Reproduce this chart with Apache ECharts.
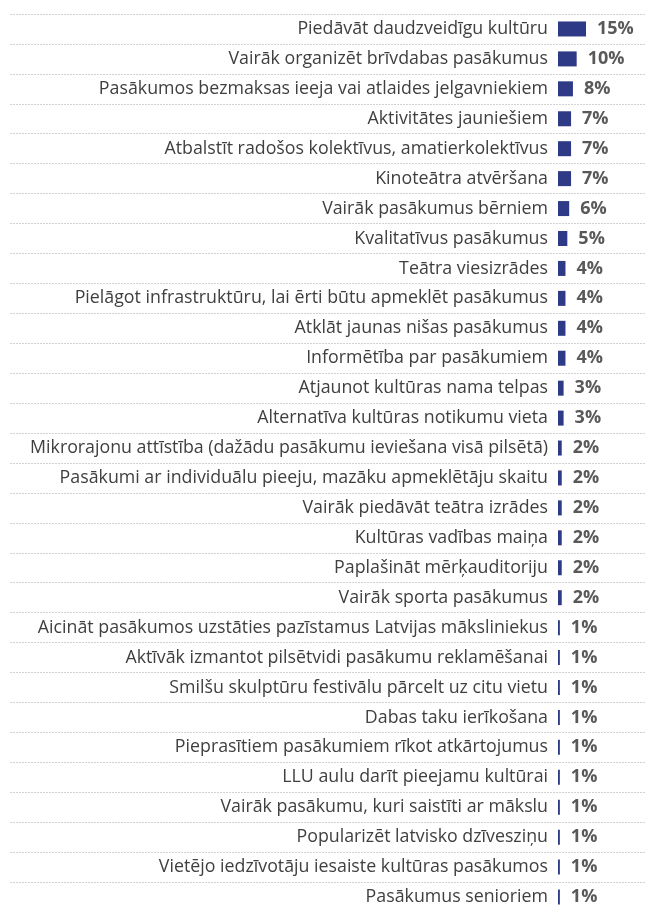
<!DOCTYPE html>
<html style="height: 100%">

<head>
    <meta charset="utf-8">
</head>

<body style="height: 100%; margin: 0; background: #fff">
    <div id="container" style="height: 100%"></div>
    <script type="text/javascript" src="https://cdn.jsdelivr.net/npm/echarts@6/dist/echarts.min.js"></script>
    <script type="text/javascript">

        // kategorijas (no augšas uz leju)
        var categories = [
            'Piedāvāt daudzveidīgu kultūru',
            'Vairāk organizēt brīvdabas pasākumus',
            'Pasākumos bezmaksas ieeja vai atlaides jelgavniekiem',
            'Aktivitātes jauniešiem',
            'Atbalstīt radošos kolektīvus, amatierkolektīvus',
            'Kinoteātra atvēršana',
            'Vairāk pasākumus bērniem',
            'Kvalitatīvus pasākumus',
            'Teātra viesizrādes',
            'Pielāgot infrastruktūru, lai ērti būtu apmeklēt pasākumus',
            'Atklāt jaunas nišas pasākumus',
            'Informētība par pasākumiem',
            'Atjaunot kultūras nama telpas',
            'Alternatīva kultūras notikumu vieta',
            'Mikrorajonu attīstība (dažādu pasākumu ieviešana visā pilsētā)',
            'Pasākumi ar individuālu pieeju, mazāku apmeklētāju skaitu',
            'Vairāk piedāvāt teātra izrādes',
            'Kultūras vadības maiņa',
            'Paplašināt mērķauditoriju',
            'Vairāk sporta pasākumus',
            'Aicināt pasākumos uzstāties pazīstamus Latvijas māksliniekus',
            'Aktīvāk izmantot pilsētvidi pasākumu reklamēšanai',
            'Smilšu skulptūru festivālu pārcelt uz citu vietu',
            'Dabas taku ierīkošana',
            'Pieprasītiem pasākumiem rīkot atkārtojumus',
            'LLU aulu darīt pieejamu kultūrai',
            'Vairāk pasākumu, kuri saistīti ar mākslu',
            'Popularizēt latvisko dzīvesziņu',
            'Vietējo iedzīvotāju iesaiste kultūras pasākumos',
            'Pasākumus senioriem'
        ];

        // procenti
        var percents = [15, 10, 8, 7, 7, 7, 6, 5, 4, 4, 4, 4, 3, 3, 2, 2, 2, 2, 2, 2, 1, 1, 1, 1, 1, 1, 1, 1, 1, 1];

        var dom = document.getElementById("container");
        var myChart = echarts.init(dom);

        var option = {
            animation: false,
            textStyle: { fontFamily: 'Open Sans' },
            grid: [
                // bāru laukums
                { left: 558, right: 60, top: 14, bottom: -3 },
                // punktotās līnijas pa visu platumu
                { left: 10, right: 0, top: 14, bottom: -3 }
            ],
            xAxis: [
                { type: 'value', gridIndex: 0, min: 0, max: 15, show: false },
                { type: 'value', gridIndex: 1, min: 0, max: 1, show: false }
            ],
            yAxis: [
                {
                    type: 'category',
                    gridIndex: 0,
                    inverse: true,
                    data: categories,
                    axisLine: { show: false },
                    axisTick: { show: false },
                    splitLine: { show: false },
                    axisLabel: {
                        interval: 0,
                        margin: 10,
                        color: '#3f3f3f',
                        fontSize: 17.8,
                        fontFamily: 'Open Sans'
                    }
                },
                {
                    type: 'category',
                    gridIndex: 1,
                    inverse: true,
                    data: categories,
                    axisLine: { show: false },
                    axisTick: { show: false },
                    axisLabel: { show: false },
                    splitLine: {
                        show: true,
                        interval: 0,
                        lineStyle: { color: '#d2d2d2', width: 1, type: [2, 1] }
                    }
                }
            ],
            series: [
                {
                    type: 'bar',
                    xAxisIndex: 0,
                    yAxisIndex: 0,
                    data: percents,
                    barWidth: 15,
                    itemStyle: { color: '#2e3a86' },
                    label: {
                        show: true,
                        position: 'right',
                        distance: 11,
                        formatter: '{c}%',
                        color: '#595959',
                        fontWeight: 'bold',
                        fontSize: 18,
                        fontFamily: 'Open Sans'
                    }
                }
            ]
        };

        myChart.setOption(option);
    </script>
</body>

</html>
